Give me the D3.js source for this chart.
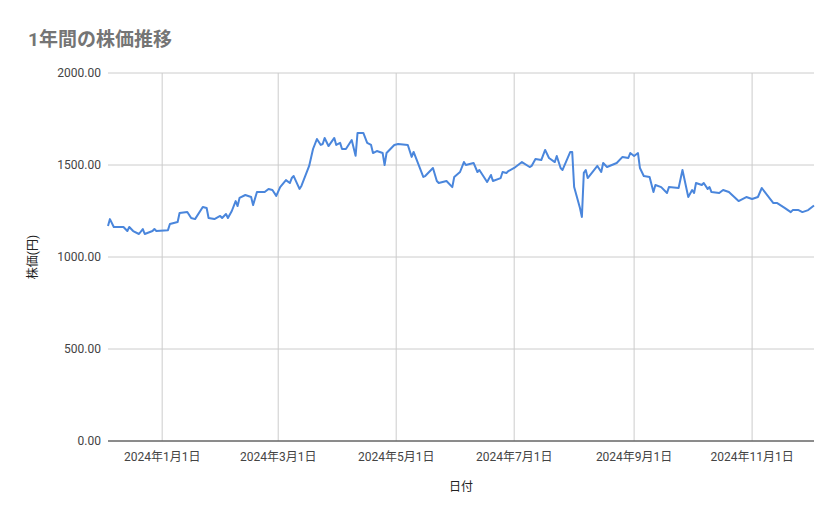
<!DOCTYPE html>
<html><head><meta charset="utf-8">
<script src="https://cdn.jsdelivr.net/npm/d3@7"></script>
<style>body{margin:0;background:#fff;font-family:Roboto,"Noto Sans CJK JP",sans-serif}</style>
</head><body><svg id="c" width="839" height="519"></svg>
<script>
const dates=["2023-12-04","2023-12-05","2023-12-07","2023-12-09","2023-12-12","2023-12-14","2023-12-15","2023-12-17","2023-12-20","2023-12-22","2023-12-23","2023-12-27","2023-12-28","2023-12-29","2024-01-04","2024-01-05","2024-01-09","2024-01-10","2024-01-14","2024-01-16","2024-01-18","2024-01-22","2024-01-24","2024-01-25","2024-01-28","2024-01-31","2024-02-01","2024-02-03","2024-02-04","2024-02-06","2024-02-08","2024-02-09","2024-02-10","2024-02-13","2024-02-16","2024-02-17","2024-02-19","2024-02-23","2024-02-25","2024-02-27","2024-02-29","2024-03-02","2024-03-05","2024-03-07","2024-03-08","2024-03-09","2024-03-12","2024-03-13","2024-03-17","2024-03-19","2024-03-21","2024-03-23","2024-03-24","2024-03-25","2024-03-27","2024-03-30","2024-03-31","2024-04-02","2024-04-03","2024-04-05","2024-04-08","2024-04-10","2024-04-11","2024-04-14","2024-04-16","2024-04-18","2024-04-19","2024-04-21","2024-04-24","2024-04-25","2024-04-26","2024-04-30","2024-05-02","2024-05-07","2024-05-09","2024-05-10","2024-05-15","2024-05-16","2024-05-20","2024-05-22","2024-05-23","2024-05-27","2024-05-30","2024-05-31","2024-06-03","2024-06-05","2024-06-06","2024-06-10","2024-06-12","2024-06-13","2024-06-17","2024-06-19","2024-06-20","2024-06-24","2024-06-25","2024-06-27","2024-06-28","2024-07-01","2024-07-05","2024-07-09","2024-07-10","2024-07-12","2024-07-15","2024-07-17","2024-07-19","2024-07-22","2024-07-23","2024-07-25","2024-07-26","2024-07-30","2024-07-31","2024-08-01","2024-08-04","2024-08-05","2024-08-06","2024-08-07","2024-08-08","2024-08-13","2024-08-15","2024-08-16","2024-08-18","2024-08-23","2024-08-26","2024-08-29","2024-08-30","2024-09-01","2024-09-03","2024-09-04","2024-09-06","2024-09-09","2024-09-11","2024-09-12","2024-09-15","2024-09-18","2024-09-19","2024-09-24","2024-09-26","2024-09-29","2024-10-01","2024-10-02","2024-10-03","2024-10-06","2024-10-07","2024-10-09","2024-10-10","2024-10-11","2024-10-15","2024-10-17","2024-10-20","2024-10-25","2024-10-29","2024-11-01","2024-11-04","2024-11-06","2024-11-12","2024-11-14","2024-11-18","2024-11-21","2024-11-22","2024-11-25","2024-11-27","2024-11-30","2024-12-02","2024-12-03"];
const prices=[1168,1206,1163,1163,1163,1141,1163,1141,1125,1152,1125,1141,1152,1141,1146,1179,1190,1239,1245,1212,1206,1272,1266,1212,1206,1223,1212,1234,1212,1250,1304,1277,1321,1337,1326,1282,1353,1353,1370,1364,1332,1380,1418,1402,1429,1440,1370,1386,1495,1587,1641,1609,1614,1647,1603,1647,1609,1620,1587,1587,1636,1550,1674,1674,1620,1609,1565,1576,1565,1500,1565,1609,1614,1609,1544,1571,1435,1440,1484,1413,1402,1413,1380,1435,1462,1516,1500,1511,1462,1473,1408,1446,1413,1429,1462,1457,1467,1484,1516,1489,1495,1533,1527,1582,1538,1516,1549,1484,1473,1571,1571,1380,1266,1217,1457,1473,1429,1495,1462,1511,1489,1511,1544,1538,1565,1549,1565,1484,1440,1435,1353,1391,1380,1348,1380,1375,1473,1326,1364,1348,1402,1391,1402,1370,1380,1353,1348,1364,1353,1304,1326,1315,1326,1375,1293,1293,1266,1244,1255,1255,1244,1255,1272,1280];
const yTicks=[0,500,1000,1500,2000];
const xTicks=["2024-01-01","2024-03-01","2024-05-01","2024-07-01","2024-09-01","2024-11-01"];
const title="1年間の株価推移", xTitle="日付", yTitle="株価(円)";

const p=d3.timeParse("%Y-%m-%d");
const data=dates.map((d,i)=>({d:p(d),v:prices[i]}));
const svg=d3.select("#c");
const L=108,R=814,T=73,B=441;
const x=d3.scaleTime().domain([p("2023-12-04"),p("2024-12-03")]).range([L,R]);
const y=d3.scaleLinear().domain([0,2000]).range([B,T]);
const g=svg.append("g");
g.selectAll(".hg").data(yTicks).join("line").attr("x1",L).attr("x2",R).attr("y1",d=>y(d)).attr("y2",d=>y(d)).attr("stroke","#cccccc");
g.selectAll(".vg").data(xTicks).join("line").attr("x1",d=>x(p(d))).attr("x2",d=>x(p(d))).attr("y1",T).attr("y2",B).attr("stroke","#cccccc");
g.selectAll(".yl").data(yTicks).join("text").attr("x",L-7).attr("y",d=>y(d)+4).attr("text-anchor","end").attr("font-size",12).attr("fill","#444").text(d=>d3.format(".2f")(d));
const fmt=d=>{const t=p(d);return `${t.getFullYear()}年${t.getMonth()+1}月${t.getDate()}日`;};
g.selectAll(".xl").data(xTicks).join("text").attr("x",d=>x(p(d))).attr("y",461).attr("text-anchor","middle").attr("font-size",12).attr("fill","#444").text(fmt);
g.append("line").attr("x1",L).attr("x2",R).attr("y1",B).attr("y2",B).attr("stroke","#333");
g.append("path").datum(data).attr("fill","none").attr("stroke","#4a86dc").attr("stroke-width",2).attr("stroke-linejoin","round")
 .attr("d",d3.line().x(d=>x(d.d)).y(d=>y(d.v)));
svg.append("text").attr("x",28).attr("y",46).attr("font-size",19).attr("font-weight","bold").attr("fill","#757575").text(title);
svg.append("text").attr("x",461).attr("y",491).attr("text-anchor","middle").attr("font-size",12).attr("fill","#222").text(xTitle);
svg.append("text").attr("transform","translate(37,257) rotate(-90)").attr("text-anchor","middle").attr("font-size",12).attr("fill","#222").text(yTitle);
</script></body></html>
